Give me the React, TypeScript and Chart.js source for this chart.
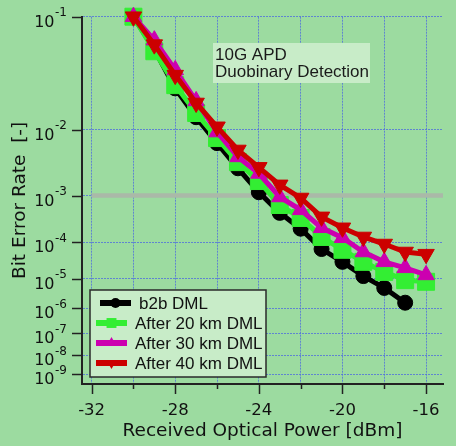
import React, { useEffect, useRef } from 'react';
import { Chart, registerables } from 'chart.js';

Chart.register(...registerables);

// ---- data ----
const POWER_B2B = [-30, -29, -28, -27, -26, -25, -24, -23, -22, -21, -20, -19, -18, -17];
const POWER_FIBER = [-30, -29, -28, -27, -26, -25, -24, -23, -22, -21, -20, -19, -18, -17, -16];
const BER_B2B = [1e-1, 6.0e-2, 2.8e-2, 1.4e-2, 6.7e-3, 2.9e-3, 1.15e-3, 4.6e-4, 2.1e-4, 6.8e-5, 3.1e-5, 1.2e-5, 5.1e-6, 1.6e-6];
const BER_20KM = [1e-1, 5.8e-2, 3.0e-2, 1.56e-2, 7.8e-3, 3.6e-3, 1.8e-3, 6.6e-4, 3.6e-4, 1.35e-4, 6.5e-5, 3.1e-5, 1.6e-5, 9e-6, 8e-6];
const BER_30KM = [1e-1, 7.0e-2, 4.1e-2, 2.1e-2, 9.3e-3, 4.3e-3, 2.4e-3, 9.4e-4, 5.3e-4, 2.2e-4, 1.29e-4, 5.7e-5, 3.1e-5, 2.1e-5, 1.3e-5];
const BER_40KM = [1e-1, 6.5e-2, 3.7e-2, 2.0e-2, 1.08e-2, 5.4e-3, 3.0e-3, 1.55e-3, 9.0e-4, 3.8e-4, 2.2e-4, 1.35e-4, 9.1e-5, 5.7e-5, 5.0e-5];
const SERIES_LABELS = ['b2b DML', 'After 20 km DML', 'After 30 km DML', 'After 40 km DML'];
const FEC_LIMIT = 1e-3;
const Y_EXPONENTS = [1, 2, 3, 4, 5, 6, 7, 8, 9];
const X_TICKS = [-32, -30, -28, -26, -24, -22, -20, -18, -16];
const X_LABEL_STEP = 4;
const X_MIN = -32.46;
const X_MAX = -15.19;
const Y_T_MAX = 0.98;
const X_TITLE = 'Received Optical Power [dBm]';
const Y_TITLE = 'Bit Error Rate  [-]';
const NOTE_LINES = ['10G APD', 'Duobinary Detection'];

// BER axis: position = log10(-log10(BER))
const toT = (ber: number) => Math.log10(-Math.log10(ber));

const BG = '#9cdba0';
const BOX_BG = '#c8ecc8';
const GRID = 'rgba(80,110,220,0.8)';
const AXIS = '#222222';
const AXIS_FONT = 'DejaVu Sans';
const TEXT_FONT = 'Liberation Sans';

const STYLES = [
  { color: '#000000', pointStyle: 'circle', radius: 7.5, rotation: 0, lr: 5 },
  { color: '#33ee33', pointStyle: 'rect', radius: 12, rotation: 0, lr: 7 },
  { color: '#cc00b0', pointStyle: 'triangle', radius: 9.5, rotation: 0, lr: 6 },
  { color: '#cc0000', pointStyle: 'triangle', radius: 9.5, rotation: 180, lr: 6 },
];

function drawMarker(ctx: CanvasRenderingContext2D, style: string, x: number, y: number, r: number, rot: number) {
  ctx.beginPath();
  if (style === 'circle') {
    ctx.arc(x, y, r, 0, Math.PI * 2);
  } else if (style === 'rect') {
    const s = Math.SQRT1_2 * r;
    ctx.rect(x - s, y - s, 2 * s, 2 * s);
  } else {
    let rad = (rot * Math.PI) / 180;
    ctx.moveTo(x + Math.sin(rad) * r, y - Math.cos(rad) * r);
    rad += (2 * Math.PI) / 3;
    ctx.lineTo(x + Math.sin(rad) * r, y - Math.cos(rad) * r);
    rad += (2 * Math.PI) / 3;
    ctx.lineTo(x + Math.sin(rad) * r, y - Math.cos(rad) * r);
    ctx.closePath();
  }
  ctx.fill();
}

export default function App() {
  const ref = useRef<HTMLCanvasElement>(null);

  useEffect(() => {
    const canvas = ref.current!;
    const xy = (xs: number[], bers: number[]) => xs.map((x, i) => ({ x, y: toT(bers[i]) }));
    const seriesData = [
      xy(POWER_B2B, BER_B2B),
      xy(POWER_FIBER, BER_20KM),
      xy(POWER_FIBER, BER_30KM),
      xy(POWER_FIBER, BER_40KM),
    ];

    const datasets: any[] = seriesData.map((data, i) => ({
      label: SERIES_LABELS[i],
      data,
      borderColor: STYLES[i].color,
      backgroundColor: STYLES[i].color,
      borderWidth: 5,
      pointStyle: STYLES[i].pointStyle,
      pointRadius: STYLES[i].radius,
      pointRotation: STYLES[i].rotation,
      pointBorderWidth: 1,
      pointBorderColor: STYLES[i].color,
      pointBackgroundColor: STYLES[i].color,
      tension: 0,
      clip: false,
      order: 4 - i,
    }));
    datasets.push({
      label: 'FEC',
      data: [{ x: -32, y: toT(FEC_LIMIT) }, { x: X_MAX, y: toT(FEC_LIMIT) }],
      borderColor: '#aab9a8',
      borderWidth: 4.5,
      pointRadius: 0,
      clip: false,
      order: 10,
    });

    const decor = {
      id: 'decor',
      beforeDraw(chart: any) {
        const c = chart.ctx as CanvasRenderingContext2D;
        c.save();
        c.fillStyle = BG;
        c.fillRect(0, 0, chart.width, chart.height);
        c.restore();
      },
      afterDraw(chart: any) {
        const c = chart.ctx as CanvasRenderingContext2D;
        const xs = chart.scales.x;
        const ys = chart.scales.y;
        const area = chart.chartArea;
        c.save();
        // tick marks
        c.strokeStyle = AXIS;
        c.lineWidth = 1.5;
        X_TICKS.forEach((v) => {
          const px = Math.round(xs.getPixelForValue(v)) + 0.5;
          const len = v % X_LABEL_STEP === 0 ? 10 : 5;
          c.beginPath();
          c.moveTo(px, area.bottom);
          c.lineTo(px, area.bottom + len);
          c.stroke();
        });
        Y_EXPONENTS.forEach((n) => {
          const py = Math.round(ys.getPixelForValue(Math.log10(n))) + 0.5;
          c.beginPath();
          c.moveTo(area.left - 10, py);
          c.lineTo(area.left, py);
          c.stroke();
        });
        // y tick labels 10^-n
        c.fillStyle = '#111';
        c.textBaseline = 'alphabetic';
        Y_EXPONENTS.forEach((n) => {
          const py = ys.getPixelForValue(Math.log10(n));
          const right = area.left - 15;
          c.font = `12px "${AXIS_FONT}"`;
          c.textAlign = 'right';
          const exp = '-' + n;
          const ew = c.measureText(exp).width;
          c.fillText(exp, right, py - 0.5);
          c.font = `16px "${AXIS_FONT}"`;
          c.fillText('10', right - ew - 0.5, py + 10);
        });
        // annotation
        c.fillStyle = BOX_BG;
        c.fillRect(213, 43, 157, 40);
        c.fillStyle = '#1a1a1a';
        c.textAlign = 'left';
        c.font = `17px "${TEXT_FONT}"`;
        c.fillText(NOTE_LINES[0], 215, 60);
        c.fillText(NOTE_LINES[1], 215, 77);
        // legend
        c.fillStyle = BOX_BG;
        c.fillRect(90, 290, 176, 87);
        c.strokeStyle = '#2a2a2a';
        c.lineWidth = 1.5;
        c.strokeRect(90, 290, 176, 87);
        SERIES_LABELS.forEach((label, i) => {
          const rowY = 303 + 20 * i;
          const dx = i === 0 ? 4 : 0;
          const st = STYLES[i];
          c.strokeStyle = st.color;
          c.fillStyle = st.color;
          c.lineWidth = 6;
          c.beginPath();
          c.moveTo(96 + dx, rowY);
          c.lineTo(127 + dx, rowY);
          c.stroke();
          drawMarker(c, st.pointStyle, 111.5 + dx, rowY, st.lr, st.rotation);
          c.fillStyle = '#111';
          c.font = `17px "${TEXT_FONT}"`;
          c.fillText(label, 135 + dx, rowY + 6);
        });
        c.restore();
      },
    };

    const gridCfg = {
      color: GRID,
      lineWidth: 1,
      drawTicks: true,
      tickLength: 10,
      tickColor: 'rgba(0,0,0,0)',
    };

    const chart = new Chart(canvas, {
      type: 'line',
      data: { datasets },
      plugins: [decor],
      options: {
        animation: false,
        responsive: false,
        devicePixelRatio: 1,
        layout: { padding: { top: 16.7, right: 0, bottom: 0, left: 0 } },
        plugins: { legend: { display: false }, tooltip: { enabled: false } },
        scales: {
          x: {
            type: 'linear',
            min: X_MIN,
            max: X_MAX,
            afterBuildTicks: (s: any) => {
              s.ticks = X_TICKS.map((v) => ({ value: v }));
            },
            afterFit: (s: any) => {
              s.height = 62;
            },
            ticks: {
              autoSkip: false,
              maxRotation: 0,
              padding: 7,
              color: '#111',
              font: { family: AXIS_FONT, size: 16.5 },
              callback: (v: any) => (Number(v) % X_LABEL_STEP === 0 ? String(v) : ''),
            },
            grid: gridCfg,
            border: { display: true, color: AXIS, width: 2, dash: [2, 1] },
            title: {
              display: true,
              text: X_TITLE,
              color: '#111',
              font: { family: AXIS_FONT, size: 18.5 },
              padding: { top: 0, bottom: 4 },
            },
          },
          y: {
            type: 'linear',
            reverse: true,
            min: 0,
            max: Y_T_MAX,
            afterBuildTicks: (s: any) => {
              s.ticks = Y_EXPONENTS.map((n) => ({ value: Math.log10(n) }));
            },
            afterFit: (s: any) => {
              s.width = 82;
            },
            ticks: { callback: () => '' },
            grid: gridCfg,
            border: { display: true, color: AXIS, width: 2, dash: [2, 1] },
            title: {
              display: true,
              text: Y_TITLE,
              color: '#111',
              font: { family: AXIS_FONT, size: 18.5 },
              padding: { top: 9, bottom: 0 },
            },
          },
        },
      } as any,
    });
    return () => chart.destroy();
  }, []);

  return (
    <div style={{ position: 'absolute', left: 0, top: 0, width: 456, height: 446 }}>
      <canvas ref={ref} width={456} height={446} style={{ display: 'block' }} />
    </div>
  );
}
